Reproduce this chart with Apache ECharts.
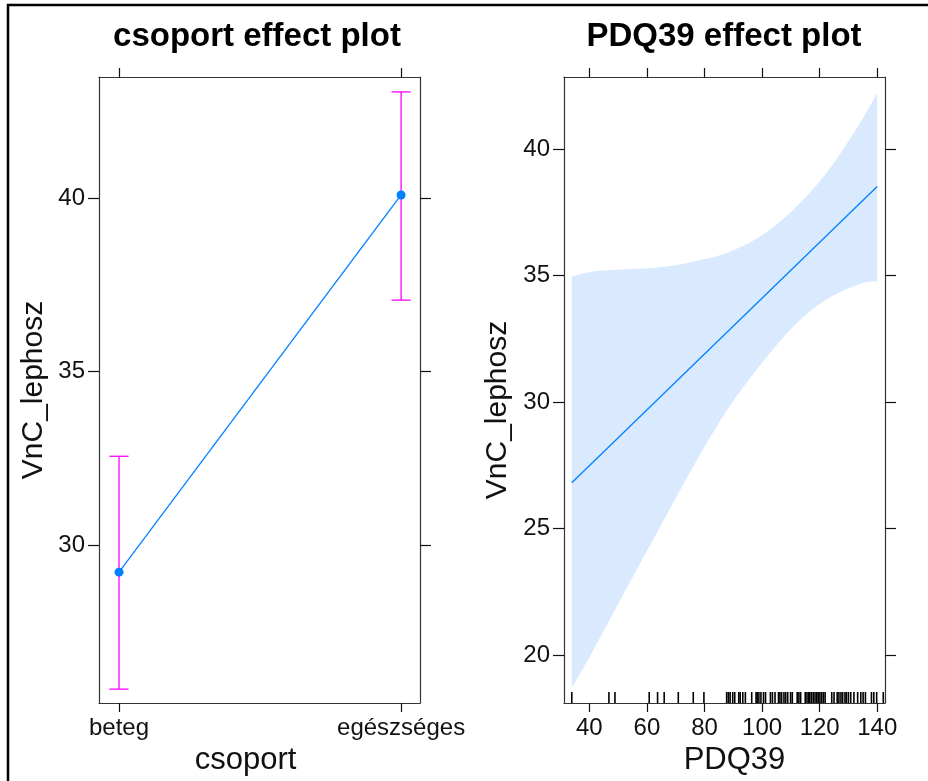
<!DOCTYPE html>
<html>
<head>
<meta charset="utf-8">
<script src="https://cdn.jsdelivr.net/npm/echarts@6.0.0/dist/echarts.min.js"></script>
<style>
  html, body { margin: 0; padding: 0; background: #fff; }
  #chart { width: 928px; height: 781px; }
</style>
</head>
<body>
<div id="chart"></div>
<script>
// csoport panel
const groups = ['beteg', 'egészséges']
const groupFit = [29.22, 40.09]
const groupLower = [25.85, 37.06]
const groupUpper = [32.56, 43.06]
const groupTicks = [30, 35, 40]

// PDQ39 panel
const fitX = [33.9, 140.0]
const fitY = [26.81, 38.52]
const bandX = [33.9, 41.4, 53.0, 64.5, 76.1, 87.7, 99.3, 110.8, 122.4, 134.0, 140.0]
const bandUpper = [34.96, 35.16, 35.25, 35.33, 35.55, 35.89, 36.54, 37.60, 39.05, 41.03, 42.24]
const bandLower = [18.70, 20.20, 22.65, 25.05, 27.45, 29.65, 31.45, 32.98, 34.06, 34.67, 34.78]
const pdqXTicks = [40, 60, 80, 100, 120, 140]
const pdqYTicks = [20, 25, 30, 35, 40]
const rugX = [
  33.9, 46.8, 48.9, 60.8, 63.7, 66.0, 70.9, 76.1, 79.8,
  87.7, 88.3, 88.9, 89.8, 90.5, 91.9, 92.4, 93.3, 94.2, 96.4, 97.9, 98.3, 98.9, 99.6,
  100.5, 101.2, 102.9, 103.6, 104.5, 105.7, 106.2, 106.8, 107.6, 108.2, 108.9, 109.9,
  110.5, 112.2, 112.8, 113.4, 115.0, 115.6, 116.2, 116.6, 117.2, 117.8, 118.4, 119.0,
  119.5, 120.1, 120.7, 121.3, 121.9, 124.2, 125.0, 126.1, 126.7, 127.4, 128.0, 128.8,
  129.3, 130.0, 130.8, 131.9, 133.2, 134.3, 135.1, 135.9, 138.0, 138.8, 139.8, 142.1
]

const FONT = '"Liberation Sans", Arial, Helvetica, sans-serif'
const BLUE = '#0080ff'
const MAGENTA = '#ff00ff'
const BAND = '#d9eaff'
const INK = '#111'

const ranges = [
  { x: [0.929, 2.067], y: [25.45, 43.49] },
  { x: [31.2, 142.7], y: [18.1, 42.85] }
]

const chartDom = document.getElementById('chart')
const chart = echarts.init(chartDom, null, { renderer: 'canvas' })

function xAxisPair(gridIndex, range, ticks, labelFmt, name, namePad) {
  const base = {
    gridIndex,
    type: 'value',
    min: range[0],
    max: range[1],
    splitLine: { show: false },
    axisLine: { show: true, onZero: false, lineStyle: { color: '#333', width: 1.2 } },
    axisTick: { show: true, length: 9, customValues: ticks, lineStyle: { color: INK, width: 1.2 } }
  }
  return [
    Object.assign({}, base, {
      position: 'bottom',
      axisLabel: {
        show: true, customValues: ticks, margin: 13,
        color: INK, fontSize: 24, fontFamily: FONT,
        formatter: labelFmt
      },
      name,
      nameLocation: 'middle',
      nameGap: 38,
      nameTextStyle: { fontSize: 31, color: INK, fontFamily: FONT, padding: namePad }
    }),
    Object.assign({}, base, {
      position: 'top',
      axisLabel: { show: false }
    })
  ]
}

function yAxisPair(gridIndex, range, ticks, name, gap, namePad) {
  const base = {
    gridIndex,
    type: 'value',
    min: range[0],
    max: range[1],
    splitLine: { show: false },
    axisLine: { show: true, onZero: false, lineStyle: { color: '#333', width: 1.2 } },
    axisTick: { show: true, length: 11, customValues: ticks, lineStyle: { color: INK, width: 1.2 } }
  }
  return [
    Object.assign({}, base, {
      position: 'left',
      axisLabel: { show: true, customValues: ticks, margin: 14, color: INK, fontSize: 24, fontFamily: FONT },
      name,
      nameLocation: 'middle',
      nameGap: gap,
      nameTextStyle: { fontSize: 30, color: INK, fontFamily: FONT, padding: namePad }
    }),
    Object.assign({}, base, {
      position: 'right',
      axisLabel: { show: false }
    })
  ]
}

// smooth outline through pixel points (catmull-rom as cubic bezier)
function curveTo(pts) {
  let d = ''
  for (let i = 0; i < pts.length - 1; i++) {
    const p0 = pts[i - 1] || pts[i]
    const p1 = pts[i]
    const p2 = pts[i + 1]
    const p3 = pts[i + 2] || p2
    const c1 = [p1[0] + (p2[0] - p0[0]) / 6, p1[1] + (p2[1] - p0[1]) / 6]
    const c2 = [p2[0] - (p3[0] - p1[0]) / 6, p2[1] - (p3[1] - p1[1]) / 6]
    d += ` C ${c1[0]} ${c1[1]} ${c2[0]} ${c2[1]} ${p2[0]} ${p2[1]}`
  }
  return d
}

const option = {
  backgroundColor: '#fff',
  animation: false,
  title: [
    {
      text: 'csoport effect plot',
      left: 252, top: 15, textAlign: 'center',
      textStyle: { fontSize: 33, fontWeight: 'bold', color: '#000', fontFamily: FONT }
    },
    {
      text: 'PDQ39 effect plot',
      left: 719, top: 15, textAlign: 'center',
      textStyle: { fontSize: 33, fontWeight: 'bold', color: '#000', fontFamily: FONT }
    }
  ],
  graphic: [
    {
      type: 'rect',
      shape: { x: 8, y: 5, width: 960, height: 820 },
      style: { fill: 'none', stroke: '#000', lineWidth: 2.5 },
      silent: true
    }
  ],
  grid: [
    { left: 99, top: 77, width: 321, height: 626 },
    { left: 564, top: 77, width: 321, height: 626 }
  ],
  xAxis: [
    ...xAxisPair(0, ranges[0].x, [1, 2], v => groups[Math.round(v) - 1] || '', 'csoport', [0, 28, 0, 0]),
    ...xAxisPair(1, ranges[1].x, pdqXTicks, v => String(v), 'PDQ39', [0, 0, 0, 20])
  ],
  yAxis: [
    ...yAxisPair(0, ranges[0].y, groupTicks, 'VnC_lephosz', 50, 0),
    ...yAxisPair(1, ranges[1].y, pdqYTicks, 'VnC_lephosz', 51, [0, 40, 0, 0])
  ],
  series: [
    {
      name: 'ci',
      type: 'custom',
      xAxisIndex: 0,
      yAxisIndex: 0,
      data: groups.map((g, i) => [i + 1, groupLower[i], groupUpper[i]]),
      encode: { x: 0, y: [1, 2] },
      z: 2,
      renderItem: (params, api) => {
        const lo = api.coord([api.value(0), api.value(1)])
        const hi = api.coord([api.value(0), api.value(2)])
        const cap = 9.5
        const style = { stroke: MAGENTA, lineWidth: 1.3 }
        return {
          type: 'group',
          children: [
            { type: 'line', shape: { x1: lo[0], y1: lo[1], x2: hi[0], y2: hi[1] }, style },
            { type: 'line', shape: { x1: lo[0] - cap, y1: lo[1], x2: lo[0] + cap, y2: lo[1] }, style },
            { type: 'line', shape: { x1: hi[0] - cap, y1: hi[1], x2: hi[0] + cap, y2: hi[1] }, style }
          ]
        }
      }
    },
    {
      name: 'fit',
      type: 'line',
      xAxisIndex: 0,
      yAxisIndex: 0,
      data: groups.map((g, i) => [i + 1, groupFit[i]]),
      symbol: 'circle',
      symbolSize: 9,
      z: 3,
      itemStyle: { color: BLUE },
      lineStyle: { color: BLUE, width: 1.3 }
    },
    {
      name: 'band',
      type: 'custom',
      xAxisIndex: 2,
      yAxisIndex: 2,
      data: bandX.map((x, i) => [x, bandLower[i], bandUpper[i]]),
      encode: { x: 0, y: [1, 2] },
      z: 1,
      renderItem: (params, api) => {
        if (params.dataIndex !== 0) return null
        const up = bandX.map((x, i) => api.coord([x, bandUpper[i]]))
        const lo = bandX.map((x, i) => api.coord([x, bandLower[i]])).reverse()
        const d = `M ${up[0][0]} ${up[0][1]}` + curveTo(up) +
          ` L ${lo[0][0]} ${lo[0][1]}` + curveTo(lo) + ' Z'
        return {
          type: 'path',
          shape: { pathData: d },
          style: { fill: BAND, stroke: null }
        }
      }
    },
    {
      name: 'pdqFit',
      type: 'line',
      xAxisIndex: 2,
      yAxisIndex: 2,
      data: fitX.map((x, i) => [x, fitY[i]]),
      symbol: 'none',
      lineStyle: { color: BLUE, width: 1.3 },
      z: 3
    },
    {
      name: 'rug',
      type: 'custom',
      xAxisIndex: 2,
      yAxisIndex: 2,
      data: rugX.map(x => [x, ranges[1].y[0]]),
      encode: { x: 0, y: 1 },
      z: 4,
      renderItem: (params, api) => {
        const p = api.coord([api.value(0), api.value(1)])
        return {
          type: 'line',
          shape: { x1: p[0], y1: p[1], x2: p[0], y2: p[1] - 11 },
          style: { stroke: '#000', lineWidth: 1.6 }
        }
      }
    }
  ]
}

chart.setOption(option)
</script>
</body>
</html>
